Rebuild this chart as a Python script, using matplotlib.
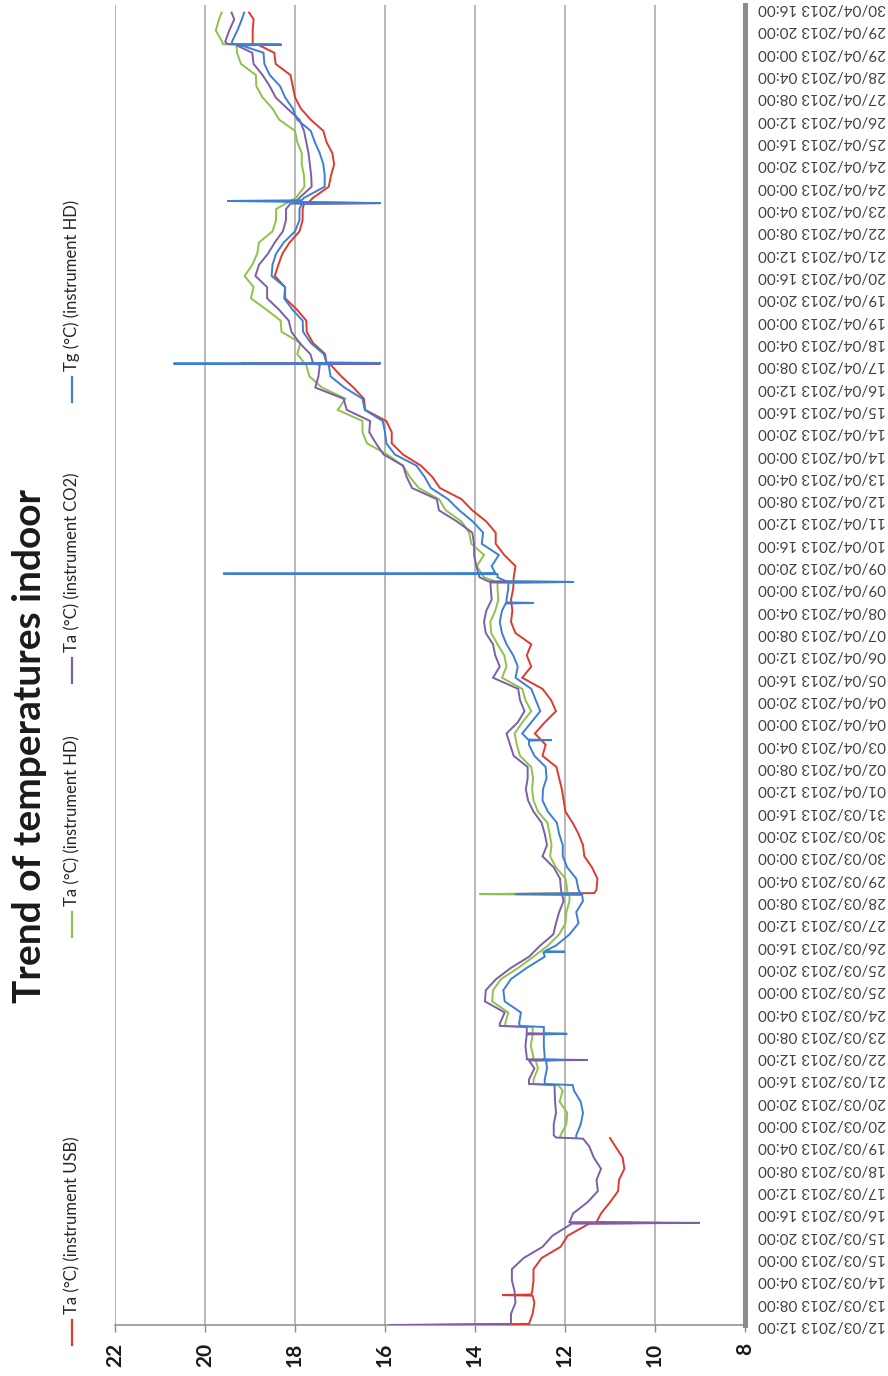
import matplotlib
matplotlib.use("Agg")
import matplotlib.pyplot as plt
from matplotlib.lines import Line2D
import numpy as np
import pandas as pd

W, H = 888, 1376

START = pd.Timestamp("2013-03-12 12:00")
HOURS = list(range(0, 1171, 10))          # hours since START, sampled every 10 h
TICK_HOURS = list(range(0, 1181, 20))     # one date label every 20 h
TEMP_TICKS = [8, 10, 12, 14, 16, 18, 20, 22]

# Ta (°C) instrument USB
TA_USB = [
    15.1, 12.72, 12.68, 12.73, 12.7, 12.7, 12.52, 12.1, 11.94, 11.5,
    11.2, 11.0, 10.82, 10.8, 10.68, 10.72, 10.88, None, None, None,
    None, None, None, None, None, None, None, None, None, None,
    None, None, None, None, None, None, None, None, None, 11.3,
    11.28, 11.4, 11.57, 11.6, 11.7, 11.83, 11.99, 12.03, 12.07, 12.13,
    12.19, 12.5, 12.43, 12.67, 12.45, 12.2, 12.31, 12.5, 12.95, 12.75,
    12.85, 12.75, 13.1, 13.2, 13.17, 13.2, 13.15, 13.14, 13.1, 13.35,
    13.54, 13.54, 13.75, 14.06, 14.3, 14.78, 14.95, 15.2, 15.6, 15.85,
    15.85, 15.97, 16.44, 16.47, 16.7, 16.97, 17.2, 17.33, 17.6, 17.74,
    17.75, 17.96, 18.22, 18.22, 18.45, 18.37, 18.28, 18.12, 17.9, 17.83,
    17.83, 17.6, 17.25, 17.2, 17.13, 17.17, 17.3, 17.37, 17.65, 17.87,
    18.0, 18.05, 18.1, 18.43, 18.46, 18.94, 18.94, 18.92,
]
TA_USB_EXTRA = [
    (1, 12.8), (26.3, 12.72), (26.8, 13.4), (27.3, 12.75),
    (90.8, 11.5), (91.5, 9.9), (92.2, 11.3), (167.5, 11.0),
    (386.1, 13.6), (387, 11.35), (861, 17.2), (861.5, 19.2), (862, 17.3),
    (1004.8, 17.8), (1005.3, 16.2), (1005.8, 17.7),
    (1146.7, 18.8), (1147.2, 18.3), (1147.7, 18.94), (1176, 19.02),
]

# Ta (°C) instrument HD
TA_HD = [
    None, None, None, None, None, None, None, None, None, None,
    None, None, None, None, None, None, None, 12.1, 11.97, 11.95,
    12.12, 12.05, 12.7, 12.6, 12.7, 12.76, 12.72, 13.33, 13.26, 13.62,
    13.6, 13.42, 13.04, 12.7, 12.38, 12.13, 11.99, 11.97, 11.9, 11.95,
    11.99, 12.2, 12.33, 12.3, 12.34, 12.39, 12.6, 12.7, 12.73, 12.71,
    12.75, 13.0, 13.07, 13.12, 12.95, 12.75, 12.88, 12.95, 13.4, 13.3,
    13.35, 13.5, 13.64, 13.66, 13.55, 13.48, 13.5, 13.8, 13.96, 13.8,
    14.08, 14.13, 14.3, 14.65, 14.8, 15.25, 15.45, 15.6, 15.95, 16.4,
    16.5, 16.5, 17.05, 16.88, 17.4, 17.68, 17.75, 17.95, 17.88, 18.3,
    18.32, 18.64, 18.98, 18.92, 19.12, 18.95, 18.84, 18.8, 18.5, 18.42,
    18.42, 17.98, 17.79, 17.8, 17.85, 17.85, 17.95, 18.0, 18.35, 18.5,
    18.72, 18.86, 18.87, 19.2, 19.29, 19.62, 19.76, 19.69,
]
TA_HD_EXTRA = [
    (168, 12.1), (215, 12.15), (216, 12.7),
    (237, 12.65), (237.5, 12.2), (238, 12.72), (267, 12.72), (268, 13.33),
    (385.4, 11.9), (386.1, 13.9), (386.8, 11.95),
    (665.3, 13.5), (665.8, 12.0), (666.3, 13.55),
    (1146.7, 19.3), (1147.2, 18.6), (1147.7, 19.6), (1176, 19.63),
]

# Ta (°C) instrument CO2
TA_CO2 = [
    15.9, 13.2, 13.1, 13.12, 13.18, 13.18, 12.92, 12.5, 12.28, 11.88,
    11.82, 11.5, 11.27, 11.3, 11.2, 11.36, 11.46, 12.25, 12.25, 12.2,
    12.22, 12.23, 12.8, 12.68, 12.85, 12.88, 12.85, 13.45, 13.34, 13.78,
    13.76, 13.53, 13.2, 12.8, 12.55, 12.26, 12.2, 12.13, 12.03, 12.09,
    12.11, 12.25, 12.5, 12.4, 12.45, 12.52, 12.7, 12.82, 12.87, 12.83,
    12.83, 13.14, 13.22, 13.3, 13.05, 12.9, 13.0, 13.04, 13.6, 13.45,
    13.55, 13.6, 13.76, 13.8, 13.75, 13.63, 13.65, 13.9, 13.97, 14.02,
    14.02, 14.06, 14.4, 14.8, 14.85, 15.4, 15.52, 15.6, 16.03, 16.2,
    16.35, 16.33, 16.85, 16.92, 17.55, 17.48, 17.45, 17.66, 17.9, 18.08,
    18.14, 18.36, 18.62, 18.62, 18.88, 18.8, 18.6, 18.45, 18.27, 18.2,
    18.2, 17.9, 17.63, 17.64, 17.67, 17.7, 17.75, 17.8, 17.9, 18.17,
    18.43, 18.56, 18.72, 18.92, 18.95, 19.55, 19.46, 19.35,
]
TA_CO2_EXTRA = [
    (1, 13.2), (90.8, 11.87), (91.5, 9.0), (92.2, 11.9),
    (167, 11.6), (168, 12.2), (215, 12.23), (216, 12.8),
    (237, 12.8), (237.5, 11.5), (238, 12.85),
    (260.4, 12.85), (260.9, 12.0), (261.4, 12.85), (267, 12.85), (268, 13.45),
    (665.3, 13.66), (665.8, 11.8), (666.3, 13.7),
    (861, 17.5), (861.5, 16.1), (862, 17.6),
    (1004.8, 18.1), (1005.3, 16.1), (1005.8, 18.0),
    (1146.7, 19.3), (1147.2, 18.35), (1147.7, 19.5), (1176, 19.41),
]

# Tg (°C) instrument HD
TG_HD = [
    None, None, None, None, None, None, None, None, None, None,
    None, None, None, None, None, None, None, 11.75, 11.65, 11.6,
    11.65, 11.8, 12.45, 12.4, 12.45, 12.47, 12.47, 13.02, 12.98, 13.34,
    13.37, 13.2, 12.85, 12.45, 12.2, 11.9, 11.7, 11.75, 11.6, 11.7,
    11.75, 11.95, 12.05, 12.05, 12.13, 12.18, 12.38, 12.5, 12.49, 12.41,
    12.43, 12.68, 12.8, 12.95, 12.75, 12.55, 12.65, 12.75, 13.1, 13.05,
    13.15, 13.3, 13.4, 13.45, 13.4, 13.3, 13.26, 13.5, 13.63, 13.47,
    13.85, 13.82, 14.05, 14.35, 14.6, 14.98, 15.12, 15.3, 15.78, 15.97,
    16.0, 16.05, 16.45, 16.5, 16.9, 17.21, 17.25, 17.36, 17.65, 17.82,
    17.83, 18.06, 18.24, 18.22, 18.52, 18.5, 18.42, 18.25, 18.0, 17.9,
    17.9, 17.8, 17.34, 17.34, 17.37, 17.45, 17.56, 17.65, 17.95, 18.05,
    18.22, 18.33, 18.56, 18.68, 18.7, 19.4, 19.28, 19.18,
]
TG_HD_EXTRA = [
    (168, 11.75), (215, 11.83), (216, 12.45),
    (237, 12.42), (237.5, 12.03), (238, 12.47),
    (260.4, 12.47), (260.9, 11.95), (261.4, 12.47), (267, 12.47), (268, 13.0),
    (334, 12.48), (334.5, 12.0), (335, 12.45),
    (385.4, 11.62), (386.1, 13.1), (386.8, 11.65),
    (523.6, 12.8), (524.1, 12.3), (524.6, 12.82),
    (646.5, 13.32), (647, 12.7), (647.5, 13.3),
    (665.3, 13.26), (665.8, 11.8), (666.3, 13.3),
    (672.8, 13.5), (673.3, 19.6), (673.8, 13.55),
    (861, 17.25), (861.5, 20.7), (862, 16.1), (862.5, 17.3),
    (1004.8, 17.85), (1005.3, 16.1), (1007.2, 19.5), (1007.8, 17.85),
    (1146.7, 19.2), (1147.2, 18.3), (1147.7, 19.4), (1176, 19.13),
]

LABELS = ["Ta (°C) (instrument USB)", "Ta (°C) (instrument HD)",
          "Ta (°C) (instrument CO2)", "Tg (°C) (instrument HD)"]
COLORS = ["#dd3a2f", "#8fc24a", "#7c5ea9", "#3d7fd3"]


def series(grid, extra):
    pts = [(h, np.nan if v is None else v) for h, v in zip(HOURS, grid)]
    pts = sorted(pts + list(extra))
    hrs, vals = zip(*pts)
    return np.array(hrs, float), np.array(vals, float)


def fig_xy(x, y):
    # pixel position measured from the top-left corner -> figure fraction
    return x / W, 1 - y / H


plt.rcParams["font.family"] = ["Lato", "DejaVu Sans"]

fig = plt.figure(figsize=(W / 100, H / 100), dpi=100)
fig.patch.set_facecolor("white")

# plot box: temperature runs right-to-left, time runs bottom-to-top
left, top, right, bottom = 115, 5, 745, 1325
ax = fig.add_axes([left / W, 1 - bottom / H, (right - left) / W, (bottom - top) / H])

data = [(TA_USB, TA_USB_EXTRA), (TA_HD, TA_HD_EXTRA),
        (TA_CO2, TA_CO2_EXTRA), (TG_HD, TG_HD_EXTRA)]
for (grid, extra), color in zip(data, COLORS):
    hrs, vals = series(grid, extra)
    ax.plot(vals, hrs, color=color, lw=1.4, solid_joinstyle="miter", zorder=3)

ax.set_xlim(22, 8)
ax.set_ylim(0, (bottom - top) / 1.116)

ax.set_xticks(TEMP_TICKS)
ax.set_xticklabels([str(t) for t in TEMP_TICKS], fontweight="bold")
ax.tick_params(axis="x", direction="out", length=5, width=1, color="#8c8c8c",
               pad=8, labelsize=15, labelcolor="#1a1a1a", labelrotation=90)
ax.grid(axis="x", color="#a6a6a6", lw=1.1, zorder=0)

date_labels = [(START + pd.Timedelta(hours=h)).strftime("%d/%m/%Y %H:%M")
               for h in TICK_HOURS]
ax.yaxis.tick_right()
ax.set_yticks(TICK_HOURS)
ax.set_yticklabels(date_labels)
ax.tick_params(axis="y", length=0, pad=9, labelsize=11, labelcolor="#404040",
               labelrotation=180)
for lbl in ax.get_yticklabels():
    lbl.set_va("center")
    lbl.set_ha("left")

for side in ("top", "left"):
    ax.spines[side].set_visible(False)
ax.spines["bottom"].set(color="#8c8c8c", linewidth=1.1)
ax.spines["right"].set(color="#8c8c8c", linewidth=3.6, zorder=4)

# title and legend, written sideways like the rest of the chart
tx, ty = fig_xy(30, 746)
fig.text(tx, ty, "Trend of temperatures indoor", rotation=90, ha="center",
         va="center", fontsize=28, fontweight="bold", color="#1a1a1a")

legend_rows = [1345, 937, 683, 402]  # where each entry's line starts
for y0, label, color in zip(legend_rows, LABELS, COLORS):
    x0, y_start = fig_xy(72, y0)
    _, y_end = fig_xy(72, y0 - 25)
    fig.add_artist(Line2D([x0, x0], [y_start, y_end], color=color, lw=1.6))
    _, y_txt = fig_xy(72, y0 - 31)
    fig.text(x0, y_txt, label, rotation=90, ha="center", va="bottom",
             fontsize=12, color="#262626")

fig.savefig("out.png", dpi=100, facecolor="white")
